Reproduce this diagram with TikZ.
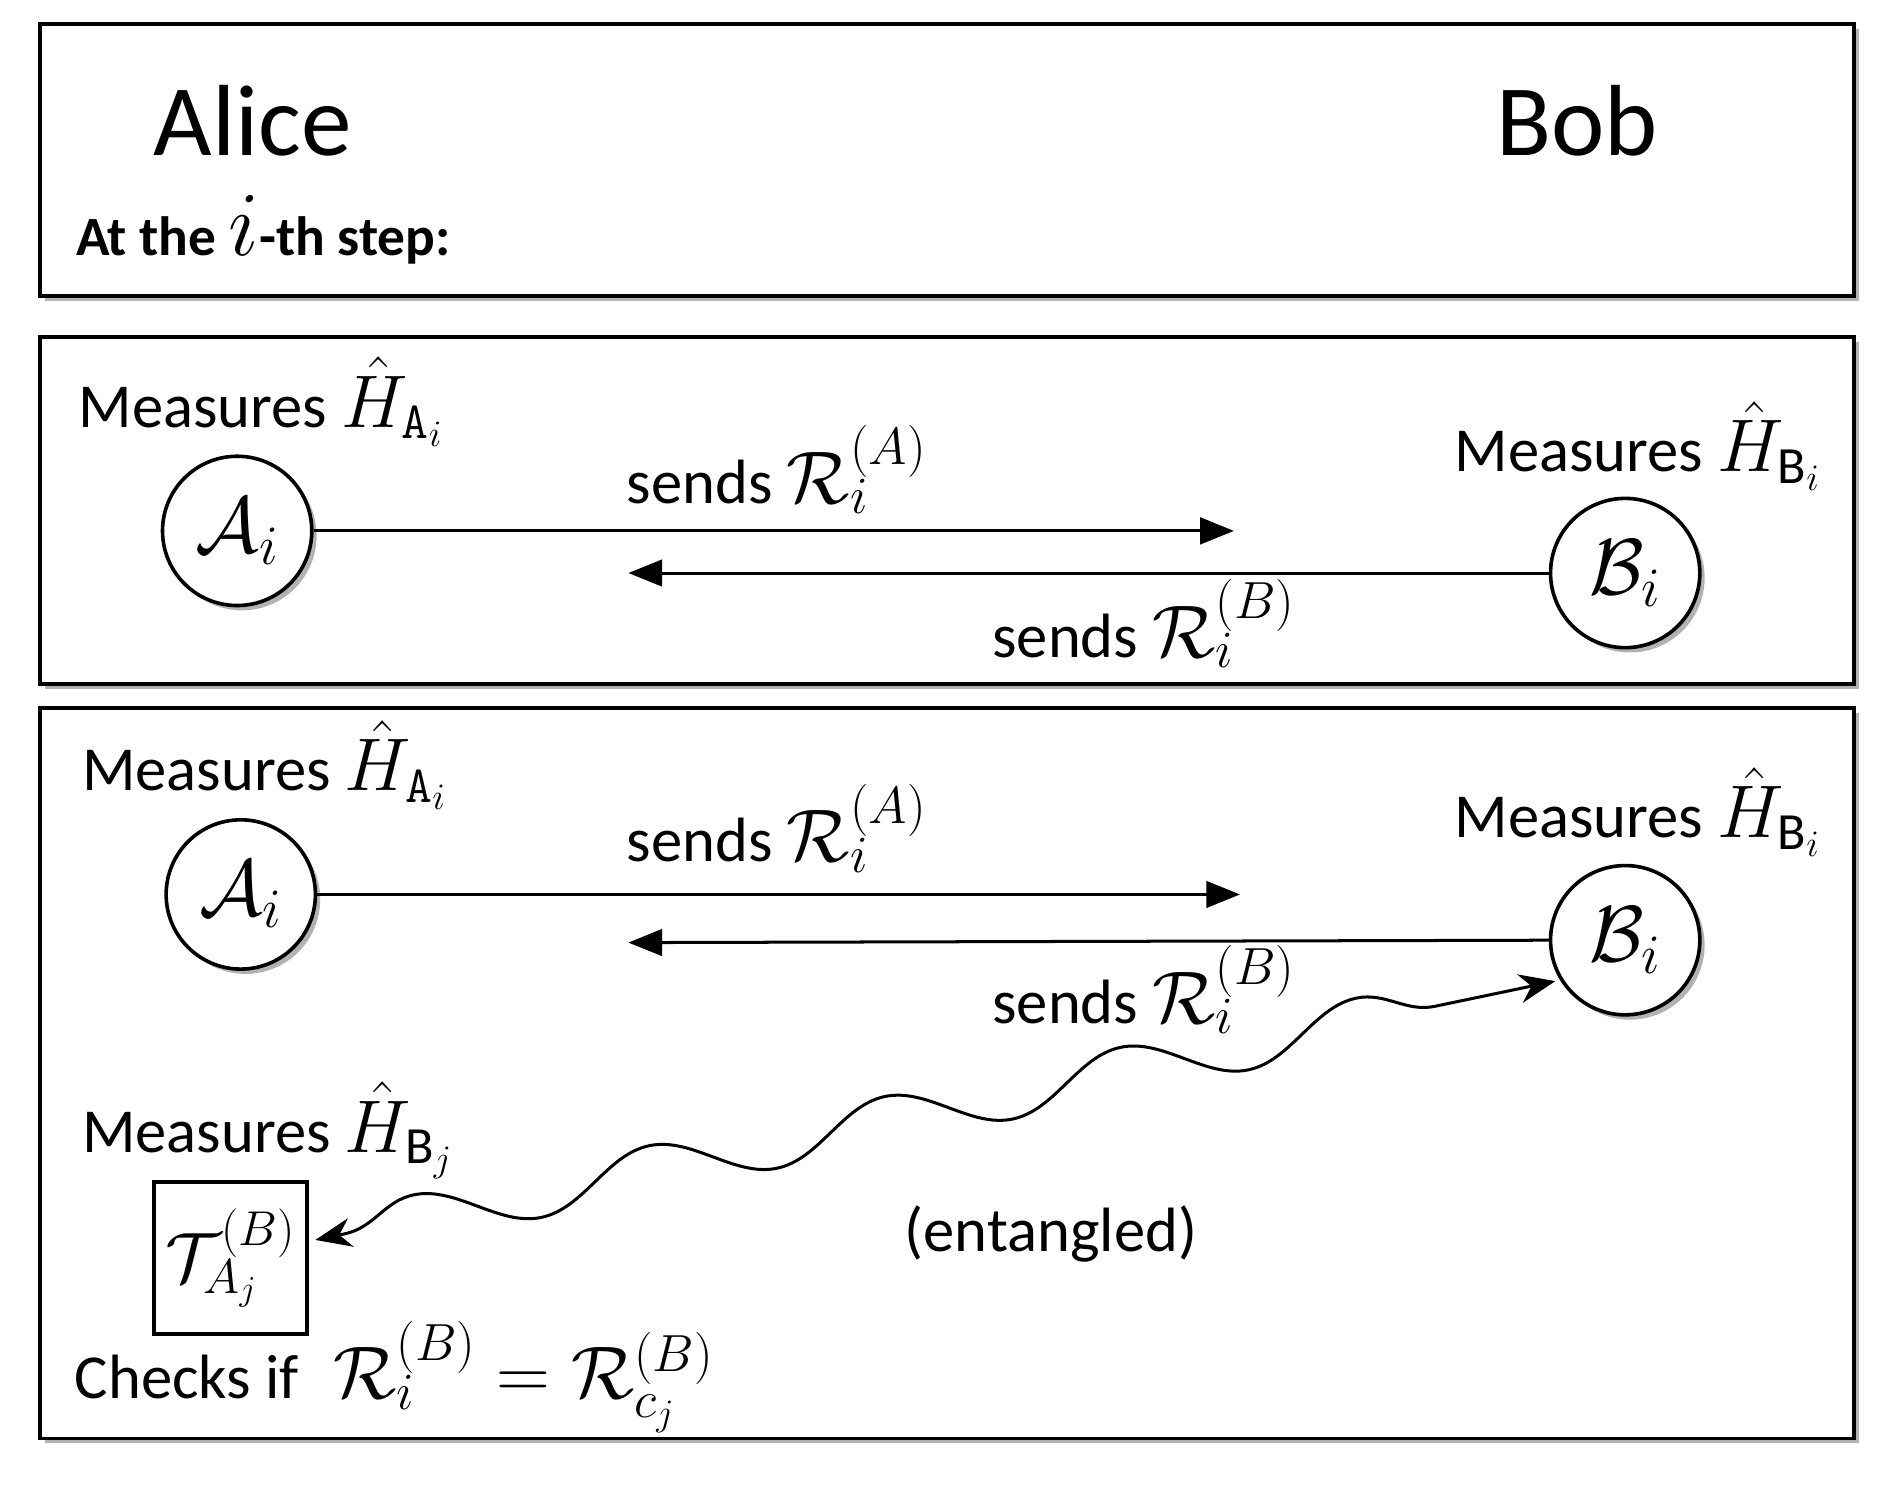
\RequirePackage{fix-cm}
\documentclass[tikz,border=0pt]{standalone}
\usepackage{fontspec}
\setmainfont{Carlito}
\usetikzlibrary{shadows,decorations.pathmorphing,arrows.meta}
\newcommand{\MM}[1]{{\fontsize{62}{70}\selectfont$#1$}}
\begin{document}
\begin{tikzpicture}[x=1pt,y=-1pt,
  box/.style={draw,line width=3pt,fill=white,drop shadow={shadow xshift=4pt,shadow yshift=-4pt,fill=gray!60,opacity=1}},
  circ/.style={circle,draw,line width=3pt,fill=white,minimum size=124pt,inner sep=0pt,font=\fontsize{66}{70}\selectfont,drop shadow={shadow xshift=4pt,shadow yshift=-4pt,fill=gray!60,opacity=1}},
  txt/.style={font=\fontsize{52}{60}\selectfont,inner sep=0pt},
  arr/.style={line width=2.5pt,-{Triangle[length=28pt,width=22pt]}}]
\useasboundingbox (0,0) rectangle (1565,1233);
\draw[box] (33,20) rectangle (1540,246);
\draw[box] (33,280) rectangle (1540,568);
\draw[box] (33,588) rectangle (1540,1195);
\node[inner sep=0pt,font=\fontsize{84}{90}\selectfont] (alice) at (210,100) {Alice};
\node[inner sep=0pt,font=\fontsize{84}{90}\selectfont] (bob) at (1310,100) {Bob};
\node[txt,anchor=base west,font=\fontsize{46}{54}\selectfont\bfseries] (step) at (63,212) {At the {\fontsize{76}{80}\selectfont$i$}-th step:};
% panel 2
\node[txt,anchor=base west] (m1) at (65,355) {Measures \MM{\hat H_{\mathtt{A}_i}}};
\node[txt,anchor=base east] (m2) at (1512,392) {Measures \MM{\hat H_{\mathrm{B}_i}}};
\node[circ] (a1) at (197,441) {$\mathcal{A}_i$};
\node[circ] (b1) at (1350,476) {$\mathcal{B}_i$};
\coordinate (e1) at (1025,441);
\coordinate (e2) at (522,476);
\draw[arr] (a1) -- (e1);
\draw[arr] (b1.west) -- (e2);
\node[txt,anchor=base] (s1) at (645,418) {sends \MM{\mathcal{R}_i^{(A)}}};
\node[txt,anchor=base] (s2) at (950,546) {sends \MM{\mathcal{R}_i^{(B)}}};
% panel 3
\node[txt,anchor=base west] (m3) at (68,657) {Measures \MM{\hat H_{\mathtt{A}_i}}};
\node[txt,anchor=base east] (m4) at (1512,696) {Measures \MM{\hat H_{\mathrm{B}_i}}};
\node[circ] (a2) at (200,743) {$\mathcal{A}_i$};
\node[circ] (b2) at (1350,781) {$\mathcal{B}_i$};
\coordinate (e3) at (1030,743);
\coordinate (e4) at (522,783);
\draw[arr] (a2) -- (e3);
\draw[arr] (b2.west) -- (e4);
\node[txt,anchor=base] (s3) at (645,716) {sends \MM{\mathcal{R}_i^{(A)}}};
\node[txt,anchor=base] (s4) at (950,850) {sends \MM{\mathcal{R}_i^{(B)}}};
\node[txt,anchor=base west] (m5) at (68,957) {Measures \MM{\hat H_{\mathrm{B}_j}}};
\node[draw,line width=3pt,minimum width=127pt,minimum height=126pt,inner sep=0pt,font=\fontsize{58}{60}\selectfont,fill=white] (t) at (191.5,1045) {$\mathcal{T}_{A_j}^{(B)}$};
\node[txt,anchor=base west] (chk) at (62,1162) {Checks if \MM{\;\mathcal{R}_i^{(B)}=\mathcal{R}_{c_j}^{(B)}}};
\node[txt] (ent) at (873,1025) {(entangled)};
\coordinate (w1) at (1292,815);
\coordinate (w2) at (262,1030);
\draw[line width=2.5pt,{Stealth[length=30pt,width=24pt]}-{Stealth[length=30pt,width=24pt]},decorate,decoration={snake,amplitude=20pt,segment length=200pt,pre length=25pt,post length=40pt}] (w2) -- (w1);
\end{tikzpicture}
\end{document}
